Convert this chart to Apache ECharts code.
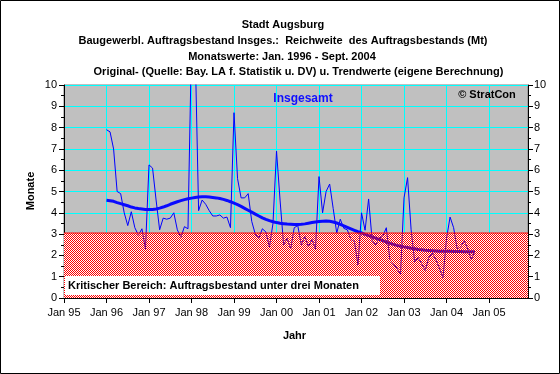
<!DOCTYPE html>
<html>
<head>
<meta charset="utf-8">
<script src="https://cdn.jsdelivr.net/npm/echarts@6/dist/echarts.min.js"></script>
<style>
html,body{margin:0;padding:0;background:#fff;}
#c{width:560px;height:374px;}
</style>
</head>
<body>
<div id="c"></div>
<script>
// ---- Data ----
const titleLines = [
  'Stadt Augsburg',
  'Baugewerbl. Auftragsbestand Insges.:  Reichweite  des Auftragsbestands (Mt)',
  'Monatswerte: Jan. 1996 - Sept. 2004',
  'Original- (Quelle: Bay. LA f. Statistik u. DV) u. Trendwerte (eigene Berechnung)'
];
const xTickLabels = ['Jan 95','Jan 96','Jan 97','Jan 98','Jan 99','Jan 00','Jan 01','Jan 02','Jan 03','Jan 04','Jan 05'];
const firstMonthIndex = 12; // Jan 1996, months counted from Jan 1995
// Monthly original values Jan 1996 - Sept 2004
const originalValues = [
  7.9, 7.8, 7.0, 5.0, 4.9, 4.0, 3.4, 4.05, 3.3, 2.95, 3.25, 2.3,
  6.25, 6.1, 4.6, 3.2, 3.75, 3.7, 3.75, 4.0, 3.2, 2.85, 3.35, 3.25,
  12.0, 12.0, 4.1, 4.6, 4.4, 4.1, 3.85, 3.85, 3.9, 3.75, 3.8, 3.3,
  8.7, 5.6, 4.7, 4.7, 4.9, 3.6, 3.0, 2.8, 3.25, 3.1, 2.4, 3.5,
  6.9, 4.6, 2.5, 2.8, 2.3, 3.3, 3.4, 2.5, 2.9, 2.4, 2.75, 2.3,
  5.7, 4.0, 5.0, 5.35, 4.2, 3.05, 3.7, 3.27, 3.2, 2.75, 2.65, 1.55,
  4.0, 3.18, 4.65, 2.7, 2.5, 2.8, 2.9, 3.3, 1.8, 1.6, 1.4, 1.1,
  4.7, 5.65, 3.2, 1.7, 1.9, 1.6, 1.3, 1.9, 2.1, 1.8, 1.4, 0.95,
  2.8, 3.8, 3.3, 2.3, 2.4, 2.7, 2.3, 1.8, 2.2
];
// Monthly trend values Jan 1996 - Sept 2004
const trendValues = [
  4.59, 4.57, 4.54, 4.48, 4.43, 4.38, 4.33, 4.27, 4.23, 4.20, 4.18, 4.16,
  4.15, 4.16, 4.18, 4.22, 4.27, 4.33, 4.40, 4.46, 4.52, 4.57, 4.62, 4.66,
  4.69, 4.72, 4.74, 4.75, 4.75, 4.74, 4.72, 4.70, 4.67, 4.63, 4.58, 4.52,
  4.45, 4.38, 4.30, 4.21, 4.12, 4.03, 3.94, 3.85, 3.76, 3.69, 3.63, 3.58,
  3.54, 3.51, 3.49, 3.47, 3.46, 3.45, 3.45, 3.46, 3.48, 3.51, 3.54, 3.57,
  3.59, 3.60, 3.61, 3.60, 3.57, 3.52, 3.46, 3.39, 3.32, 3.25, 3.18, 3.11,
  3.05, 2.99, 2.93, 2.87, 2.81, 2.75, 2.69, 2.62, 2.57, 2.52, 2.47, 2.43,
  2.40, 2.37, 2.34, 2.31, 2.28, 2.26, 2.24, 2.23, 2.22, 2.21, 2.20, 2.20,
  2.19, 2.19, 2.18, 2.18, 2.18, 2.17, 2.17, 2.17, 2.17
];
const criticalLevel = 3.05;
const xMin = 0, xMax = 131;

// ---- Build ----
const FONT = "'Liberation Sans', Arial, sans-serif";
const origData = originalValues.map((v, i) => [firstMonthIndex + i, v]);
const trendData = trendValues.map((v, i) => [firstMonthIndex + i, v]);
const critData = [[xMin, criticalLevel], [xMax, criticalLevel]];

const pc = document.createElement('canvas');
pc.width = 2; pc.height = 2;
const pctx = pc.getContext('2d');
pctx.fillStyle = '#ff0000';
pctx.fillRect(0, 0, 1, 1);
pctx.fillRect(1, 1, 1, 1);

const chart = echarts.init(document.getElementById('c'), null, {renderer: 'canvas'});

const yAxisCommon = {
  type: 'value', min: 0, max: 10, interval: 1,
  axisLine: {show: true, lineStyle: {color: '#000', width: 1}},
  axisTick: {show: true, length: 5, lineStyle: {color: '#000'}},
  minorTick: {show: true, splitNumber: 2, length: 3, lineStyle: {color: '#000'}},
  axisLabel: {color: '#000', fontSize: 11, fontFamily: FONT, margin: 7}
};

const titleCenters = [[283, 25], [283, 41], [282, 57], [298.5, 72]];

chart.setOption({
  animation: false,
  backgroundColor: '#ffffff',
  grid: {left: 64, right: 32, top: 85, bottom: 76, show: true, backgroundColor: '#c0c0c0', borderColor: '#808080', borderWidth: 1},
  xAxis: {
    type: 'value', min: xMin, max: xMax, interval: 12,
    axisLine: {show: true, onZero: false, lineStyle: {color: '#000'}},
    axisTick: {show: true, length: 5, lineStyle: {color: '#000'}},
    axisLabel: {color: '#000', fontSize: 11, fontFamily: FONT, margin: 9, showMaxLabel: false,
      formatter: v => xTickLabels[Math.round(v / 12)] || ''},
    splitLine: {show: true, lineStyle: {color: '#00ffff', width: 1}}
  },
  yAxis: [
    Object.assign({}, yAxisCommon, {position: 'left', splitLine: {show: true, lineStyle: {color: '#00ffff', width: 1}}}),
    Object.assign({}, yAxisCommon, {position: 'right', splitLine: {show: false}, axisLabel: Object.assign({}, yAxisCommon.axisLabel, {margin: 6})})
  ],
  series: [
    {type: 'line', data: critData, z: 2, showSymbol: false, silent: true,
      lineStyle: {width: 0}, areaStyle: {color: '#ffffff', opacity: 1}},
    {type: 'line', data: origData, z: 3, showSymbol: false, silent: true,
      lineStyle: {color: '#0000ff', width: 1}},
    {type: 'line', data: trendData, z: 4, showSymbol: false, silent: true,
      lineStyle: {color: '#0a0aff', width: 3}},
    {type: 'line', data: critData, z: 5, showSymbol: false, silent: true,
      lineStyle: {color: '#ff0000', width: 1},
      areaStyle: {color: {image: pc, repeat: 'repeat'}, opacity: 1}}
  ],
  graphic: [
    {type: 'rect', z: 100, shape: {x: 0.5, y: 0.5, width: 559, height: 373}, style: {fill: 'none', stroke: '#000', lineWidth: 1}},
    ...titleLines.map((t, i) => ({type: 'text', z: 100, style: {text: t, x: titleCenters[i][0], y: titleCenters[i][1], align: 'center', verticalAlign: 'middle', font: 'bold 11px ' + FONT, fill: '#000'}})),
    {type: 'text', z: 100, style: {text: 'Insgesamt', x: 303, y: 98.5, align: 'center', verticalAlign: 'middle', font: 'bold 12px ' + FONT, fill: '#1010ff'}},
    {type: 'text', z: 100, style: {text: '© StratCon', x: 487, y: 94.5, align: 'center', verticalAlign: 'middle', font: 'bold 11px ' + FONT, fill: '#000'}},
    {type: 'rect', z: 100, shape: {x: 65, y: 276, width: 315, height: 19}, style: {fill: '#ffffff'}},
    {type: 'text', z: 101, style: {text: 'Kritischer Bereich: Auftragsbestand unter drei Monaten', x: 68, y: 286, align: 'left', verticalAlign: 'middle', font: 'bold 11px ' + FONT, fill: '#000'}},
    {type: 'text', z: 100, rotation: Math.PI / 2, x: 31, y: 191, style: {text: 'Monate', x: 0, y: 0, align: 'center', verticalAlign: 'middle', font: 'bold 11px ' + FONT, fill: '#000'}},
    {type: 'text', z: 100, style: {text: 'Jahr', x: 294.5, y: 336, align: 'center', verticalAlign: 'middle', font: 'bold 11px ' + FONT, fill: '#000'}}
  ]
});
</script>
</body>
</html>
